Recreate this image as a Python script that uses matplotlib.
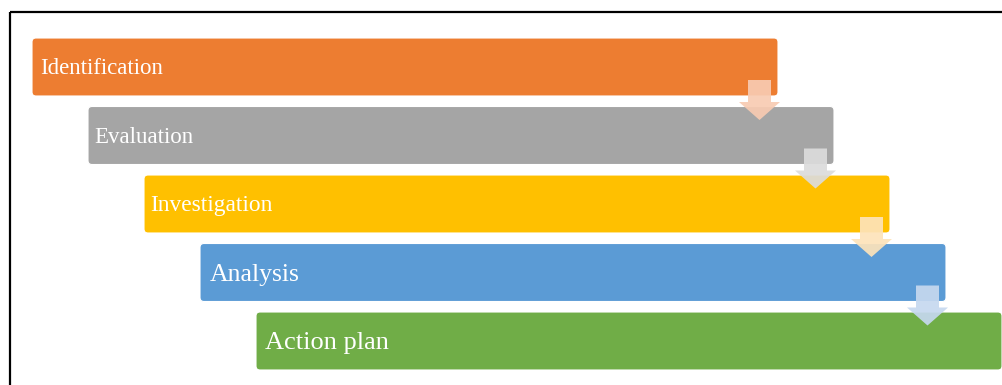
import matplotlib.pyplot as plt
from matplotlib.patches import FancyBboxPatch, Polygon

# steps of the process, top to bottom
steps = ["Identification", "Evaluation", "Investigation", "Analysis", "Action plan"]
box_colors = ["#ED7D31", "#A5A5A5", "#FFC000", "#5B9BD5", "#70AD47"]
arrow_colors = ["#F8CBB2", "#DCDCDC", "#FDE3BA", "#C6D8EF"]
font_sizes = [16.5, 16.5, 16.8, 18.5, 19]
text_pad = [8, 6, 6, 10, 9]

# layout in pixels
x0, y0 = 32, 38
dx, dy = 56, 68.5
box_w, box_h = 746, 58

fig = plt.figure(figsize=(10.02, 3.85), dpi=100)
ax = fig.add_axes([0, 0, 1, 1])
ax.set_xlim(0, 1002)
ax.set_ylim(385, 0)
ax.axis("off")

# frame: only top and left lines are visible
ax.plot([10, 1010], [12, 12], color="black", lw=1.6, solid_capstyle="butt", clip_on=False)
ax.plot([10, 10], [12, 395], color="black", lw=1.6, solid_capstyle="butt", clip_on=False)

for i, name in enumerate(steps):
    bx = x0 + dx * i
    by = y0 + dy * i
    box = FancyBboxPatch((bx, by), box_w, box_h,
                         boxstyle="round,pad=0,rounding_size=4",
                         facecolor=box_colors[i], edgecolor="white", lw=0.8, zorder=2)
    ax.add_patch(box)
    ax.text(bx + text_pad[i], by + box_h / 2 + 2, name, color="white",
            fontsize=font_sizes[i], family="Liberation Serif",
            ha="left", va="center", zorder=3)

# down arrows between consecutive boxes
for i in range(len(steps) - 1):
    cx = x0 + dx * i + box_w - 18.5
    bottom = y0 + dy * i + box_h
    top = bottom - 16
    base = bottom + 6
    tip = bottom + 24
    pts = [(cx - 11.5, top), (cx + 11.5, top), (cx + 11.5, base), (cx + 20.5, base),
           (cx, tip), (cx - 20.5, base), (cx - 11.5, base)]
    ax.add_patch(Polygon(pts, closed=True, facecolor=arrow_colors[i],
                         edgecolor="none", alpha=0.92, zorder=4))

fig.savefig("out.png", dpi=100)
